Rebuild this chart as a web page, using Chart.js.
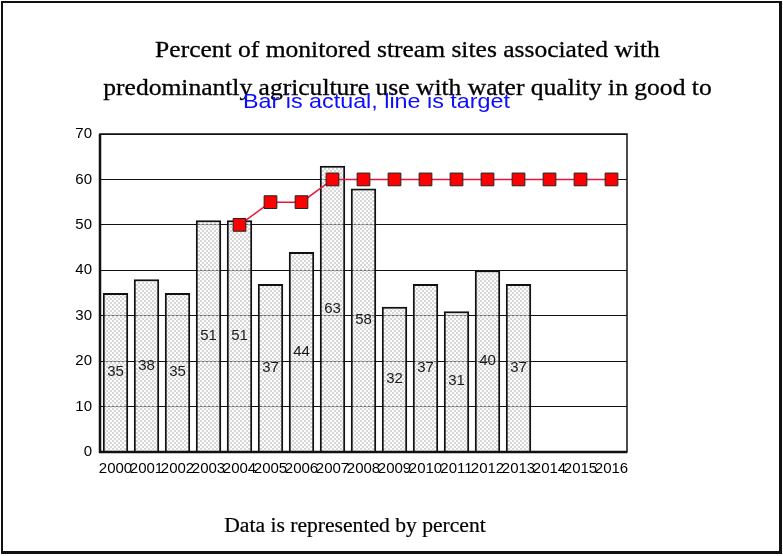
<!DOCTYPE html>
<html>
<head>
<meta charset="utf-8">
<script src="https://cdn.jsdelivr.net/npm/chart.js@4"></script>
<style>
  html, body { margin: 0; padding: 0; background: #fff; }
  #wrap { position: relative; width: 783px; height: 556px; overflow: hidden; }
  #frame { position: absolute; left: 1px; top: 1px; width: 776px; height: 548px; border: 2px solid #111; border-right-width: 3px; border-bottom-width: 3px; pointer-events: none; }
  canvas { position: absolute; left: 0; top: 0; }
  .t { position: absolute; white-space: nowrap; transform-origin: 50% 50%; }
  #t1 { left: 0; width: 815px; text-align: center; top: 37px; font: 23px "Liberation Serif", serif; color: #000; transform: scaleX(1.11); -webkit-text-stroke: 0.3px #000; }
  #t2 { left: 0; width: 815px; text-align: center; top: 75px; font: 23px "Liberation Serif", serif; color: #000; transform: scaleX(1.11); -webkit-text-stroke: 0.3px #000; }
  #sub { left: 0; width: 753px; text-align: center; top: 89px; font: 21px "Liberation Sans", Arial, sans-serif; color: #0c0cff; transform: scaleX(1.11); }
  #foot { left: 0; width: 710px; text-align: center; top: 514px; font: 20px "Liberation Serif", serif; color: #000; transform: scaleX(1.08); -webkit-text-stroke: 0.2px #000; }
</style>
</head>
<body>
<div id="wrap">
  <canvas id="c" width="783" height="556"></canvas>
  <div class="t" id="t1">Percent of monitored stream sites associated with</div>
  <div class="t" id="t2">predominantly agriculture use with water quality in good to</div>
  <div class="t" id="sub">Bar is actual, line is target</div>
  <div class="t" id="foot">Data is represented by percent</div>
  <div id="frame"></div>
</div>
<script>
const years = ["2000","2001","2002","2003","2004","2005","2006","2007","2008","2009","2010","2011","2012","2013","2014","2015","2016"];
const actual = [35, 38, 35, 51, 51, 37, 44, 63, 58, 32, 37, 31, 40, 37, null, null, null];
const target = [null, null, null, null, 50, 55, 55, 60, 60, 60, 60, 60, 60, 60, 60, 60, 60];
const yTicks = [0, 10, 20, 30, 40, 50, 60, 70];

function makePattern() {
  const p = document.createElement('canvas');
  p.width = 4; p.height = 4;
  const g = p.getContext('2d');
  g.fillStyle = 'rgba(248,248,248,0.4)';
  g.fillRect(0, 0, 4, 4);
  g.fillStyle = 'rgba(200,200,200,0.7)';
  g.fillRect(0, 0, 2, 2);
  g.fillRect(2, 2, 2, 2);
  return g.createPattern(p, 'repeat');
}

const labelPlugin = {
  id: 'barLabels',
  afterDatasetsDraw(chart) {
    const ctx = chart.ctx;
    const meta = chart.getDatasetMeta(0);
    ctx.save();
    ctx.font = '15px "Liberation Sans", Arial, sans-serif';
    ctx.fillStyle = '#1a1a1a';
    ctx.textAlign = 'center';
    ctx.textBaseline = 'middle';
    meta.data.forEach((bar, i) => {
      const v = actual[i];
      if (v == null) return;
      const { x, y, base } = bar.getProps(['x', 'y', 'base'], true);
      ctx.fillText(String(v), x, (y + base) / 2);
    });
    ctx.restore();
  }
};

const boxPlugin = {
  id: 'plotBox',
  afterDraw(chart) {
    const a = chart.chartArea;
    const ctx = chart.ctx;
    ctx.save();
    ctx.strokeStyle = '#111';
    ctx.lineWidth = 1.5;
    ctx.strokeRect(a.left, a.top, a.right - a.left, a.bottom - a.top);
    ctx.lineWidth = 2.5;
    ctx.beginPath();
    ctx.moveTo(a.left, a.top); ctx.lineTo(a.left, a.bottom); ctx.lineTo(a.right, a.bottom);
    ctx.stroke();
    ctx.restore();
  }
};

new Chart(document.getElementById('c'), {
  data: {
    labels: years,
    datasets: [
      {
        type: 'bar',
        data: actual,
        backgroundColor: makePattern(),
        borderColor: '#111',
        borderWidth: 2,
        categoryPercentage: 0.82,
        barPercentage: 1.0,
        order: 2
      },
      {
        type: 'line',
        data: target,
        borderColor: '#e8143c',
        borderWidth: 1.5,
        pointStyle: 'rect',
        pointRadius: 9,
        pointBackgroundColor: '#ff0000',
        pointBorderColor: '#222',
        pointBorderWidth: 1,
        spanGaps: false,
        order: 1
      }
    ]
  },
  options: {
    responsive: false,
    animation: false,
    events: [],
    layout: { padding: { left: 0, top: 134, right: 156, bottom: 74 } },
    plugins: { legend: { display: false }, tooltip: { enabled: false }, title: { display: false } },
    scales: {
      x: {
        grid: { display: false },
        border: { display: false },
        ticks: { color: '#000', font: { family: '"Liberation Sans", Arial, sans-serif', size: 15 }, maxRotation: 0, minRotation: 0, autoSkip: false, padding: 0 },
        afterFit(s) { s.height = 30; }
      },
      y: {
        min: 0, max: 70,
        afterBuildTicks(s) { s.ticks = yTicks.map(v => ({ value: v })); },
        grid: { color: '#111', lineWidth: 1, drawTicks: false },
        border: { display: false },
        ticks: { color: '#000', font: { family: '"Liberation Sans", Arial, sans-serif', size: 15 }, padding: 8 },
        afterFit(s) { s.width = 100; }
      }
    }
  },
  plugins: [labelPlugin, boxPlugin]
});
</script>
</body>
</html>
